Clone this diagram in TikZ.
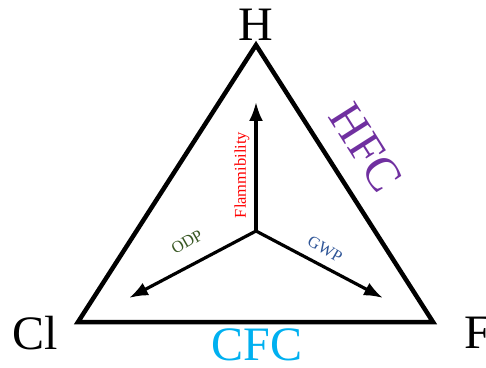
\documentclass[tikz,border=0pt]{standalone}
\usepackage{fontspec}
\setmainfont{Liberation Serif}
\usepackage{tikz}
\usetikzlibrary{arrows.meta, positioning}
\definecolor{hfcpurple}{RGB}{112, 48, 160}
\definecolor{cfccyan}{RGB}{0, 176, 240}
\definecolor{odpgreen}{RGB}{56, 87, 35}
\definecolor{gwpblue}{RGB}{47, 85, 151}

\begin{document}
\begin{tikzpicture}[x=1pt, y=1pt,
  big/.style={font=\fontsize{48}{48}\selectfont, inner sep=0pt},
  small/.style={font=\fontsize{16.5}{16.5}\selectfont, inner sep=0pt},
  axis/.style={-{Latex[length=19pt, width=14pt]}, line width=3.2pt}]
\useasboundingbox (0,0) rectangle (486,367);
% corners of the triangle
\coordinate (h) at (256,322);
\coordinate (cl) at (78,45);
\coordinate (f) at (433,45);
\draw[line width=4.5pt, line join=miter] (h) -- (cl) -- (f) -- cycle;
% arrows from the middle
\coordinate (mid) at (256,136);
\coordinate (up) at (256,265);
\coordinate (left) at (129,69);
\coordinate (right) at (383,69);
\draw[axis] (mid) -- (up);
\draw[axis] (mid) -- (left);
\draw[axis] (mid) -- (right);
% labels
\node[big] (hlab) at (256,342) {H};
\node[big] (cllab) at (35,34) {Cl};
\node[big] (flab) at (478,34) {F};
\node[big, text=cfccyan] (cfc) at (257,22) {CFC};
\node[big, text=hfcpurple, rotate=-57.6] (hfc) at (366,219) {HFC};
\node[small, text=red, rotate=90] (flam) at (242,192) {Flammibility};
\node[small, text=odpgreen, rotate=30] (odp) at (187,125) {ODP};
\node[small, text=gwpblue, rotate=-30] (gwp) at (325,118) {GWP};
\end{tikzpicture}
\end{document}
